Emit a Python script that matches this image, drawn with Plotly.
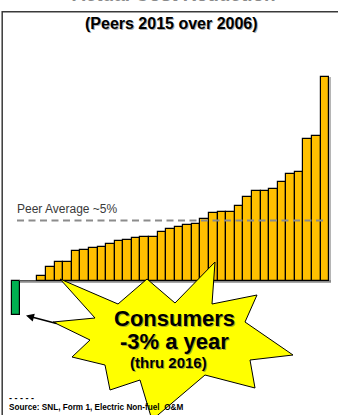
import plotly.graph_objects as go

# ---------------- data ----------------
consumer_label = ["Consumers"]
consumer_value = [-2.9]           # % per year (green bar)
blank_labels = ["", ""]
blank_values = [0, 0]
peer_values = [0.40, 1.10, 1.52, 1.57, 2.46, 2.57, 2.68, 2.82, 3.02, 3.29,
               3.38, 3.57, 3.63, 3.65, 4.04, 4.27, 4.48, 4.60, 4.68, 5.13,
               5.65, 5.67, 5.75, 6.18, 6.92, 7.42, 7.50, 7.65, 8.18, 8.90,
               9.02, 11.77, 12.02, 16.93]
peer_average = 5

title_text = "Actual Cost Reduction"
subtitle_text = "(Peers 2015 over 2006)"
avg_label = "Peer Average ~5%"
star_lines = ["Consumers", "-3% a year", "(thru 2016)"]
source_text = "Source: SNL, Form 1, Electric Non-fuel  O&M"

# ---------------- layout helpers (pixel -> axis) ----------------
W, H = 338, 415
PITCH = 8.58      # px per category
X0PX = 16.0       # px centre of first category
BASE = 280.5      # px of y = 0
PXPCT = 12.0      # px per 1 %

def px2x(p):
    return (p - X0PX) / PITCH

def px2y(p):
    return (BASE - p) / PXPCT

n_total = len(consumer_value) + len(blank_values) + len(peer_values)
xs_cons = [0]
xs_blank = [1, 2]
xs_peer = list(range(3, n_total))

fig = go.Figure()

# baseline shadow
fig.add_shape(type="line", xref="x", yref="y",
              x0=px2x(20), x1=px2x(331), y0=px2y(281.5), y1=px2y(281.5),
              line=dict(color="#8a8a8a", width=2.5), layer="below")

# bar drop shadow (same data, nudged right)
shadow_shift = 1.8 / PITCH
fig.add_trace(go.Bar(x=xs_peer, y=peer_values, width=1, offset=-0.5 + shadow_shift,
                     marker=dict(color="rgba(120,120,120,0.55)", line=dict(width=0)),
                     hoverinfo="skip", showlegend=False))

fig.add_trace(go.Bar(x=xs_cons, y=consumer_value, width=1, offset=-0.5,
                     marker=dict(color="#00B050", line=dict(color="black", width=1.2)),
                     hoverinfo="skip", showlegend=False))
fig.add_trace(go.Bar(x=xs_blank, y=blank_values, width=1, offset=-0.5,
                     marker=dict(color="#FFC000", line=dict(color="#555555", width=1)),
                     hoverinfo="skip", showlegend=False))
fig.add_trace(go.Bar(x=xs_peer, y=peer_values, width=1, offset=-0.5,
                     marker=dict(color="#FFC000", line=dict(color="black", width=1.2)),
                     hoverinfo="skip", showlegend=False))

# peer average dashed line
fig.add_shape(type="line", xref="x", yref="y",
              x0=px2x(17), x1=px2x(326), y0=peer_average, y1=peer_average,
              line=dict(color="#8c8c8c", width=2, dash="7px,4.5px"), layer="above")

# frame
fig.add_shape(type="rect", xref="x", yref="y",
              x0=px2x(2.2), x1=px2x(345), y0=px2y(11.8), y1=px2y(430),
              line=dict(color="#3a3a3a", width=1.5), fillcolor="rgba(0,0,0,0)", layer="above")

# starburst
star_px = [(60, 279), (118, 304), (147, 279), (175, 303), (215, 262), (212, 304),
           (257, 295), (245, 322), (293, 355), (250, 360), (255, 388), (205, 375),
           (152, 420), (140, 380), (110, 390), (105, 365), (72, 357), (90, 340),
           (53, 322), (95, 318)]
path = "M " + " L ".join(f"{px2x(a):.4f},{px2y(b):.4f}" for a, b in star_px) + " Z"
fig.add_shape(type="path", xref="x", yref="y", path=path,
              fillcolor="#FFFF00", line=dict(color="black", width=1), layer="above")

FONT = "Liberation Sans, Arial, sans-serif"

def label(text, cx, cy, size, color="black", bold=True, shadow=False, xanchor="center", family=FONT):
    t = f"<b>{text}</b>" if bold else text
    common = dict(xref="paper", yref="paper", showarrow=False, xanchor=xanchor, yanchor="middle",
                  borderpad=0)
    if shadow:
        fig.add_annotation(x=(cx + 1.2) / W, y=1 - (cy + 1.2) / H, text=t,
                           font=dict(family=family, size=size, color="rgba(90,90,90,0.5)"), **common)
    fig.add_annotation(x=cx / W, y=1 - cy / H, text=t,
                       font=dict(family=family, size=size, color=color), **common)

label(title_text, 174, -5.5, 19, color="#8a8a8a")
label(subtitle_text, 171.5, 23, 16, shadow=True)
label(avg_label, 67, 209, 12, color="#3a3a3a", bold=False)
label(star_lines[0], 174, 318, 22, shadow=True)
label(star_lines[1], 174, 341.5, 22, shadow=True)
label(star_lines[2], 168, 362.5, 15, shadow=True)
label("- - - - -", 8, 398, 9, xanchor="left")
label(source_text, 8, 407, 8.2, xanchor="left")

# arrow from star to consumers bar
fig.add_annotation(x=px2x(26), y=px2y(315.5), xref="x", yref="y", text="",
                   showarrow=True, ax=32, ay=8.5, arrowhead=2, arrowsize=1,
                   arrowwidth=1.6, arrowcolor="black")

fig.update_layout(
    width=W, height=H,
    margin=dict(l=0, r=0, t=0, b=0, pad=0),
    paper_bgcolor="white", plot_bgcolor="white",
    bargap=0, barmode="overlay",
    xaxis=dict(range=[px2x(0), px2x(W)], visible=False, fixedrange=True),
    yaxis=dict(range=[px2y(H), px2y(0)], visible=False, fixedrange=True),
    showlegend=False,
)

fig.write_html("out.html", config={"displayModeBar": False},
               post_script="document.body.style.margin='0px';document.body.style.overflow='hidden';")
